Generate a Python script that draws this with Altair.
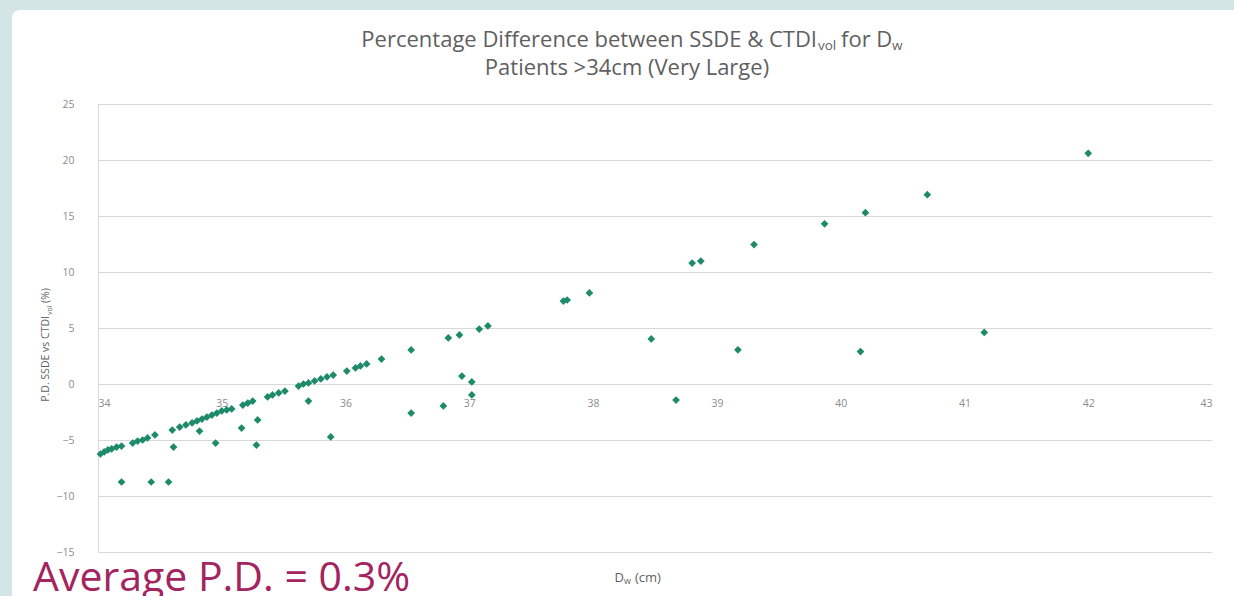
import altair as alt
import pandas as pd

# Water-equivalent diameter (cm) and percentage difference SSDE vs CTDIvol (%)
dw_cm = [
    34.02, 34.05, 34.08, 34.11, 34.15, 34.19, 34.28, 34.32, 34.36, 34.40,
    34.46, 34.60, 34.66, 34.71, 34.76, 34.80, 34.84, 34.88, 34.92, 34.96,
    35.00, 35.04, 35.08, 35.17, 35.21, 35.25, 35.37, 35.41, 35.46, 35.51,
    35.62, 35.66, 35.70, 35.75, 35.80, 35.85, 35.90, 36.01, 36.08, 36.12,
    36.17, 36.29, 36.53, 36.83, 36.92, 37.08, 37.15, 37.76, 37.79, 37.97,
    38.80, 38.87, 39.30, 39.87, 40.20, 40.70, 42.00,
    34.19, 34.43, 34.57, 34.61, 34.82, 34.95, 35.16, 35.29, 35.28, 35.70,
    35.88, 36.53, 36.79, 36.94, 37.02, 37.02, 38.47, 38.67, 39.17, 40.16,
    41.16,
]
pd_pct = [
    -6.25, -6.07, -5.89, -5.80, -5.63, -5.54, -5.27, -5.09, -5.00, -4.82,
    -4.55, -4.11, -3.84, -3.66, -3.48, -3.30, -3.13, -2.95, -2.77, -2.59,
    -2.41, -2.32, -2.23, -1.88, -1.70, -1.52, -1.16, -0.98, -0.80, -0.63,
    -0.18, 0.00, 0.09, 0.27, 0.45, 0.63, 0.80, 1.16, 1.43, 1.61,
    1.79, 2.23, 3.04, 4.11, 4.38, 4.91, 5.18, 7.41, 7.50, 8.13,
    10.80, 10.98, 12.45, 14.30, 15.30, 16.90, 20.60,
    -8.75, -8.75, -8.75, -5.63, -4.20, -5.27, -3.93, -3.21, -5.45, -1.52,
    -4.73, -2.59, -1.96, 0.71, 0.18, -0.98, 4.02, -1.43, 3.05, 2.90,
    4.60,
]

x_ticks = [34, 35, 36, 37, 38, 39, 40, 41, 42, 43]
y_ticks = [-15, -10, -5, 0, 5, 10, 15, 20, 25]

title_main = "Percentage Difference between SSDE & CTDI"
title_sub = "Patients >34cm (Very Large)"
y_title = "P.D. SSDE vs CTDI"
average_note = "Average P.D. = 0.3%"

W, H = 1114, 448          # plot area
LEFT, TOP = 98, 104       # plot area offset inside the page
GREY = "#5f5f5f"
TICK_GREY = "#8c8c8c"
TEAL = "#d3e5e4"
FONT = "Open Sans"

x_min, x_max = x_ticks[0], x_ticks[-1]
y_min, y_max = y_ticks[0], y_ticks[-1]
zero_offset = -(0 - y_min) * H / (y_max - y_min)

df = pd.DataFrame({"dw": dw_cm, "pd": pd_pct})
one = alt.Data(values=[{}])


def label(text, px, py, size, color=GREY, align="left", baseline="middle",
          angle=0, font=FONT):
    """Free text placed at page pixel (px, py)."""
    return alt.Chart(one).mark_text(
        text=text, fontSize=size, color=color, align=align,
        baseline=baseline, angle=angle, font=font,
    ).encode(x=alt.value(px - LEFT), y=alt.value(py - TOP))


def block(x0, y0, x1, y1, color, radius=0):
    """Decorative rectangle between page pixels (x0, y0) and (x1, y1)."""
    return alt.Chart(one).mark_rect(color=color, cornerRadius=radius).encode(
        x=alt.value(x0 - LEFT), x2=alt.value(x1 - LEFT),
        y=alt.value(y0 - TOP), y2=alt.value(y1 - TOP),
    )


# slide frame: teal strips on the left and top, rounded white corner
frame = [
    block(0, 0, 1234, 10, TEAL),
    block(0, 0, 12, 596, TEAL),
    block(0, 0, 30, 30, TEAL),
    block(12, 10, 70, 70, "white", radius=8),
]

points = alt.Chart(df).mark_point(
    shape="diamond", filled=True, size=60, color="#1e8b68", opacity=1,
).encode(
    x=alt.X("dw:Q",
            scale=alt.Scale(domain=[x_min, x_max], nice=False, zero=False),
            axis=alt.Axis(values=x_ticks, grid=False, domain=False, ticks=False,
                          labelColor=TICK_GREY, labelFontSize=10.5, labelFont=FONT,
                          labelPadding=14, offset=zero_offset, title=None)),
    y=alt.Y("pd:Q",
            scale=alt.Scale(domain=[y_min, y_max], nice=False, zero=False),
            axis=alt.Axis(values=y_ticks, grid=True, gridColor="#d9d9d9",
                          domain=True, domainColor="#d9d9d9", ticks=False,
                          labelColor=TICK_GREY, labelFontSize=10.5, labelFont=FONT,
                          labelPadding=24, title=None)),
)

# Title line 1 with subscripts
A = 817
t1 = label(title_main, A, 40, 22, align="right")
t1v = label("vol", A + 1, 46, 13.5)
t1f = label("for D", A + 24, 40, 22)
t1w = label("w", A + 75, 46, 13.5)
t2 = label(title_sub, 627, 68, 22, align="center")

# Axis titles
ya = 316
yt1 = label(y_title, 46, ya, 10.5, align="right", angle=270)
yt2 = label("vol", 50, ya - 1, 7, angle=270)
yt3 = label("(%)", 46, ya - 13, 10.5, angle=270)

xt1 = label("D", 624, 578, 13, align="right")
xt2 = label("w", 624, 581, 9)
xt3 = label("(cm)", 635, 578, 13)

note = label(average_note, 33, 591, 41, color="#a3245e", baseline="alphabetic")

chart = alt.layer(
    *frame, points, t1, t1v, t1f, t1w, t2, yt1, yt2, yt3, xt1, xt2, xt3, note,
).properties(
    width=W, height=H,
    padding={"left": LEFT, "top": TOP, "right": 1234 - LEFT - W,
             "bottom": 596 - TOP - H},
    autosize=alt.AutoSizeParams(type="none"),
    background="white",
).configure_view(stroke=None)

chart.save("out.html", embed_options={"renderer": "svg", "actions": False})
